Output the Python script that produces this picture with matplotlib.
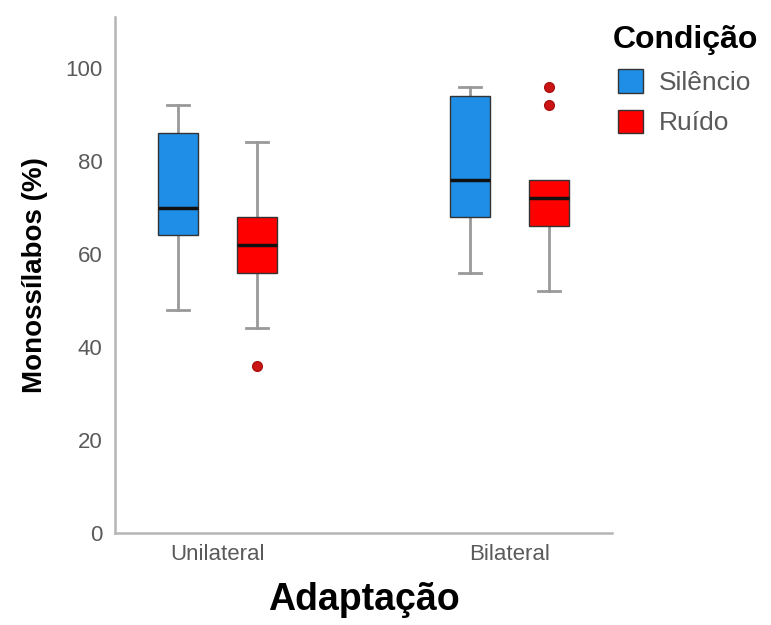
import matplotlib
matplotlib.use("Agg")
import matplotlib.pyplot as plt
from matplotlib.patches import Patch

plt.rcParams["font.family"] = ["Liberation Sans", "DejaVu Sans"]

groups = ["Unilateral", "Bilateral"]
conditions = ["Silêncio", "Ruído"]
colors = ["#1e8ee6", "#ff0000"]

# five-number summaries: low whisker, Q1, median, Q3, high whisker
whislo = {"Silêncio": [48, 56], "Ruído": [44, 52]}
q1 = {"Silêncio": [64, 68], "Ruído": [56, 66]}
med = {"Silêncio": [70, 76], "Ruído": [62, 72]}
q3 = {"Silêncio": [86, 94], "Ruído": [68, 76]}
whishi = {"Silêncio": [92, 96], "Ruído": [84, 76]}
fliers = {"Silêncio": [[], []], "Ruído": [[36], [92, 96]]}

fig = plt.figure(figsize=(7.71, 6.25), dpi=100)
ax = fig.add_axes([0.149, 0.147, 0.645, 0.826])

offset = 0.135
width = 0.137
for ci, cond in enumerate(conditions):
    stats = []
    for gi in range(len(groups)):
        stats.append(dict(whislo=whislo[cond][gi], q1=q1[cond][gi], med=med[cond][gi],
                          q3=q3[cond][gi], whishi=whishi[cond][gi], fliers=fliers[cond][gi]))
    pos = [gi + (ci - 0.5) * 2 * offset for gi in range(len(groups))]
    bp = ax.bxp(stats, positions=pos, widths=width, patch_artist=True, showfliers=True,
                boxprops=dict(facecolor=colors[ci], edgecolor="#333333", linewidth=1.0, zorder=3),
                medianprops=dict(color="#111111", linewidth=2.5, zorder=4),
                whiskerprops=dict(color="#999999", linewidth=2.0, zorder=2),
                capprops=dict(color="#999999", linewidth=2.0, zorder=2),
                capwidths=width * 0.55,
                flierprops=dict(marker="o", markerfacecolor="#cc1414", markeredgecolor="#aa1010",
                                markersize=7))
    # no cap when the whisker has zero length (as in the original)
    for gi, st in enumerate(stats):
        if st["whishi"] == st["q3"]:
            bp["caps"][2 * gi + 1].set_visible(False)
        if st["whislo"] == st["q1"]:
            bp["caps"][2 * gi].set_visible(False)

ax.set_xlim(-0.35, 1.35)
ax.set_ylim(0, 111)
ax.set_xticks([0, 1])
ax.set_xticklabels(groups)
ax.set_yticks([0, 20, 40, 60, 80, 100])
ax.tick_params(axis="y", length=0, labelsize=16, colors="#5a5a5a", pad=9)
ax.tick_params(axis="x", length=0, labelsize=16, colors="#5a5a5a", pad=8)
for s in ["top", "right"]:
    ax.spines[s].set_visible(False)
for s in ["left", "bottom"]:
    ax.spines[s].set_color("#b5b5b5")
    ax.spines[s].set_linewidth(1.8)

ax.set_xlabel("Adaptação", fontsize=27, fontweight="bold", labelpad=12)
ax.set_ylabel("Monossílabos (%)", fontsize=20, fontweight="bold", labelpad=12)

handles = [Patch(facecolor=c, edgecolor="#333333", label=l) for c, l in zip(colors, conditions)]
leg = ax.legend(handles=handles, title="Condição", loc="upper left", bbox_to_anchor=(0.995, 0.99),
                frameon=False, fontsize=19, handlelength=0.95, handleheight=1.0,
                handletextpad=0.6, labelspacing=0.55, borderaxespad=0, borderpad=0.1)
leg.get_title().set_fontsize(23)
leg.get_title().set_fontweight("bold")
for t in leg.get_texts():
    t.set_color("#5a5a5a")

fig.savefig("out.png", dpi=100)
